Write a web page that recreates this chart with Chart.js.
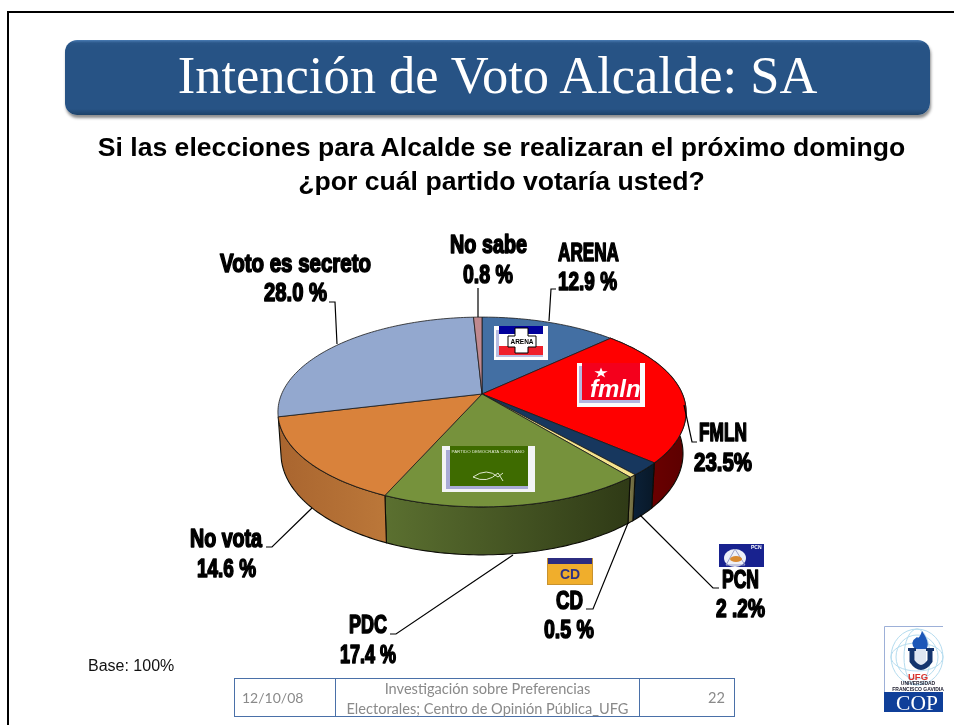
<!DOCTYPE html>
<html lang="es">
<head>
<meta charset="utf-8">
<title>Intención de Voto Alcalde: SA</title>
<script src="https://cdn.jsdelivr.net/npm/chart.js@4"></script>
<style>
html,body{margin:0;padding:0;background:#fff;width:954px;height:725px;overflow:hidden}
#wrap{position:relative;width:954px;height:725px}
#frameTop{position:absolute;left:7px;top:11px;width:947px;height:2px;background:#000}
#frameLeft{position:absolute;left:7px;top:11px;width:2px;height:714px;background:#000}
#banner{position:absolute;left:65px;top:40px;width:865px;height:75px;border-radius:12px;
 background:linear-gradient(#4a7cb4 0,#2a5688 3px,#275385 10%,#275385 92%,#1d4268 100%);
 box-shadow:1px 3px 3px rgba(0,0,0,.45);color:#fff;text-align:center;
 font:52.5px/71px "Liberation Serif",serif}
#sub{position:absolute;left:0;top:130px;width:1003px;text-align:center;color:#000;
 font:bold 26.6px/34px "Liberation Sans",Arial,sans-serif}
#base{position:absolute;left:88px;top:657px;color:#111;font:16px/18px "Liberation Sans",Arial,sans-serif}
canvas{position:absolute;left:0;top:0}
#foot div{position:absolute;top:678px;height:39px;box-sizing:border-box;border:1.5px solid #4a70a8;color:#8a8a8a;
 font:14.6px/20px Lato,"Open Sans",sans-serif}
</style>
</head>
<body>
<div id="wrap">
<canvas id="c" width="954" height="725"></canvas>
<div id="frameTop"></div><div id="frameLeft"></div>
<div id="banner">Intención de Voto Alcalde: SA</div>
<div id="sub">Si las elecciones para Alcalde se realizaran el próximo domingo<br>¿por cuál partido votaría usted?</div>
<div id="base">Base: 100%</div>
<div id="foot">
 <div style="left:234px;width:102px;line-height:37px;padding-left:7px;font-size:14px">12/10/08</div>
 <div style="left:335px;width:305px;text-align:center;line-height:20px;padding-top:0">Investigación sobre Preferencias<br>Electorales; Centro de Opinión Pública_UFG</div>
 <div style="left:639px;width:96px;line-height:37px;text-align:right;padding-right:9px">22</div>
</div>
</div>
<script>
// ---- data ----
const categories = ['ARENA','FMLN','PCN','CD','PDC','No vota','Voto es secreto','No sabe'];
const values     = [12.9, 23.5, 2.2, 0.5, 17.4, 14.6, 28.0, 0.8];
const valueTexts = ['12.9 %','23.5%','2 .2%','0.5 %','17.4 %','14.6 %','28.0 %','0.8 %'];
const sliceColors = ['#436fa3','#ff0000','#17375e','#f6e48e','#76923c','#d9823b','#93a8cf','#c0898f'];
const wallColors  = [['#33557d','#2a4767'],['#7a0000','#5c0000'],['#0b2036','#081828'],['#7a7648','#66623a'],
                     ['#5b7030','#2f3a16'],['#a9652f','#bb7739'],['#6f81a3','#5f708f'],['#8f666b','#7c585c']];
// ---- layout of the page furniture ----
const labelBoxes = [ // [name left,right,baseline, value left,right,baseline]
 [558,619,261, 558,617,290],[699,747,441, 694,752,471],[722,759,588, 716,765,617],[556,583,609, 544,594,638],
 [349,387,633, 340,396,663],[190,262,547, 197,256,577],[220,371,272, 264,327,301],[450,527,253, 463,513,283]];
const leaders = [
 [[556,289],[551,289],[549,321]],[[684,405],[692,442],[697,442]],[[640,515],[713,588],[719,588]],[[628,523],[593,609],[586,609]],
 [[513,555],[396,634],[390,634]],[[312,508],[272,547],[266,547]],[[329,302],[335,302],[337,344]],[[478,288],[478,317]]];

const PERSP = 0.1895, RATIO = 0.4574, WIDEN = 1.0018, WALL_BASE = 40, WALL_VAR = 8, WALL_SHRINK = 0.985;

function project(el, a){
  const u = Math.cos(a), v = Math.sin(a), w = 1 - PERSP*v, R = el.outerRadius;
  return {x: el.x + R*WIDEN*u/w, y: el.y + R*RATIO*v/w, v};
}
function lower(el, p){
  return {x: el.x + (p.x-el.x)*WALL_SHRINK, y: p.y + WALL_BASE + WALL_VAR*p.v};
}
function rim(el, a0, a1){
  const n = Math.max(2, Math.ceil((a1-a0)/0.02)), pts = [];
  for(let i=0;i<=n;i++) pts.push(project(el, a0+(a1-a0)*i/n));
  return pts;
}
function drawWall(ctx, el, i){
  const top = rim(el, el.startAngle, el.endAngle), bot = top.map(p=>lower(el,p));
  ctx.beginPath();
  top.forEach((p,k)=>k?ctx.lineTo(p.x,p.y):ctx.moveTo(p.x,p.y));
  bot.reverse().forEach(p=>ctx.lineTo(p.x,p.y));
  ctx.closePath();
  const xs = top.map(p=>p.x), g = ctx.createLinearGradient(Math.min(...xs),0,Math.max(...xs),0);
  g.addColorStop(0, wallColors[i][0]); g.addColorStop(1, wallColors[i][1]);
  ctx.fillStyle = g; ctx.fill();
  ctx.strokeStyle = '#0c0c06'; ctx.lineWidth = 1.1; ctx.stroke();
}
function drawTop(ctx, el){
  const c = {x: el.x, y: el.y};
  ctx.beginPath(); ctx.moveTo(c.x,c.y);
  rim(el, el.startAngle, el.endAngle).forEach(p=>ctx.lineTo(p.x,p.y));
  ctx.closePath();
  ctx.fillStyle = el.options.backgroundColor; ctx.fill();
  ctx.strokeStyle = '#1a1a1a'; ctx.lineWidth = 0.8; ctx.stroke();
}
function fitText(ctx, text, xl, xr, base){
  const m = ctx.measureText(text).width, s = (xr-xl)/m;
  ctx.save(); ctx.translate(xl, base); ctx.scale(s,1);
  ctx.lineWidth = 1.6; ctx.strokeStyle = '#000'; ctx.fillStyle = '#000'; ctx.lineJoin='round';
  ctx.strokeText(text,0,0); ctx.fillText(text,0,0); ctx.restore();
}
function rect(ctx,x,y,w,h,c){ctx.fillStyle=c;ctx.fillRect(x,y,w,h);}
function logoArena(ctx){
  rect(ctx,494,326,54,34,'#fdfdfd');
  rect(ctx,496,330,47,27,'#b9bde0');
  rect(ctx,499,326,44,8,'#00009c');
  rect(ctx,499,334,44,12,'#fff');
  rect(ctx,499,346,44,9,'#f01f2a');
  ctx.fillStyle='#fff';ctx.strokeStyle='#000';ctx.lineWidth=1;
  ctx.beginPath();
  [[515,328],[528,328],[528,336],[536,336],[536,347],[528,347],[528,353],[515,353],[515,347],[508,347],[508,336],[515,336]]
   .forEach((p,k)=>k?ctx.lineTo(p[0],p[1]):ctx.moveTo(p[0],p[1]));
  ctx.closePath();ctx.fill();ctx.stroke();
  ctx.fillStyle='#000';ctx.font='bold 6.5px "Liberation Sans",sans-serif';ctx.textAlign='center';
  ctx.fillText('ARENA',522,344);ctx.textAlign='left';
}
function logoFmln(ctx){
  rect(ctx,577,363,68,44,'#fbfbfb');
  rect(ctx,579,366,61,37,'#b3b6e0');
  rect(ctx,582,363,58,37,'#f4001c');
  ctx.fillStyle='#fff';
  ctx.font='italic bold 24px "Liberation Sans",sans-serif';ctx.fillText('fmln',590,397);
  ctx.beginPath();
  const cx=601,cy=373;
  for(let i=0;i<10;i++){const r=i%2?2.6:7,a=-Math.PI/2+i*Math.PI/5;ctx.lineTo(cx+r*Math.cos(a),cy+r*Math.sin(a)*0.8);}
  ctx.closePath();ctx.fill();
}
function logoPdc(ctx){
  rect(ctx,442,446,93,46,'#f3f4f6');
  rect(ctx,446,450,82,39,'#a9abd6');
  rect(ctx,450,446,78,40,'#3e6b00');
  ctx.fillStyle='#dfe8cf';ctx.font='4.4px "Liberation Sans",sans-serif';ctx.textAlign='center';
  ctx.fillText('PARTIDO DEMOCRATA CRISTIANO',488,453);ctx.textAlign='left';
  ctx.strokeStyle='#dfe8cf';ctx.lineWidth=1;ctx.beginPath();
  ctx.moveTo(473,477);ctx.quadraticCurveTo(487,467,498,477);ctx.lineTo(503,473);
  ctx.moveTo(473,477);ctx.quadraticCurveTo(487,484,498,473);ctx.lineTo(503,481);ctx.stroke();
}
function logoCd(ctx){
  rect(ctx,547,558,46,27,'#c8922e');
  rect(ctx,548,558,44,6,'#2c2c80');
  rect(ctx,548,564,44,20,'#f0ae2c');
  ctx.fillStyle='#2e3284';ctx.font='bold 14px "Liberation Sans",sans-serif';ctx.textAlign='center';
  ctx.fillText('CD',570,579);ctx.textAlign='left';
}
function logoPcn(ctx){
  rect(ctx,719,544,45,23,'#18228f');
  ctx.fillStyle='#eef0f8';ctx.beginPath();ctx.ellipse(735,558,11,9,0,0,7);ctx.fill();
  ctx.strokeStyle='#9aa0c8';ctx.lineWidth=1;ctx.beginPath();ctx.moveTo(735,549);ctx.lineTo(745,565);ctx.lineTo(726,565);ctx.closePath();ctx.stroke();
  ctx.fillStyle='#d88a32';ctx.beginPath();ctx.ellipse(736,559,6,3,0,0,7);ctx.fill();
  ctx.fillStyle='#fff';ctx.font='bold 5px "Liberation Sans",sans-serif';ctx.fillText('PCN',751,549);
}
function logoUfg(ctx){
  rect(ctx,884,626,59,86,'#fff');
  ctx.strokeStyle='#9db0d8';ctx.lineWidth=1;ctx.beginPath();ctx.moveTo(884.5,712);ctx.lineTo(884.5,626.5);ctx.lineTo(943,626.5);ctx.stroke();
  ctx.strokeStyle='#b5dcef';ctx.lineWidth=1;
  for(const [rx,ry] of [[26,28],[26,14],[13,28],[21,22]]){ctx.beginPath();ctx.ellipse(917,657,rx,ry,0,0,7);ctx.stroke();}
  ctx.fillStyle='#1c57b8';ctx.beginPath();ctx.moveTo(922,631);ctx.quadraticCurveTo(931,644,926,649);ctx.lineTo(915,649);
  ctx.quadraticCurveTo(909,642,917,637);ctx.quadraticCurveTo(919,640,922,631);ctx.fill();
  rect(ctx,915,649,11,18,'#dfe6f2');
  ctx.strokeStyle='#14346e';ctx.lineWidth=5;ctx.beginPath();ctx.moveTo(912,650);ctx.lineTo(912,661);ctx.quadraticCurveTo(921,674,930,661);ctx.lineTo(930,650);ctx.stroke();
  rect(ctx,908,648,8,3,'#14346e');rect(ctx,926,648,8,3,'#14346e');
  ctx.textAlign='center';
  ctx.fillStyle='#d9342b';ctx.font='bold 9.5px "Liberation Sans",sans-serif';ctx.fillText('UFG',918,680);
  ctx.fillStyle='#223';ctx.font='bold 5px "Liberation Sans Narrow","Liberation Sans",sans-serif';
  ctx.fillText('UNIVERSIDAD',918,685);ctx.fillText('FRANCISCO GAVIDIA',918,690.5);
  rect(ctx,884,692,59,20,'#0f3f99');
  ctx.fillStyle='#fff';ctx.font='21.5px "Liberation Serif",serif';ctx.fillText('COP',917,710);
  ctx.textAlign='left';
}
const pie3d = {
  id:'pie3d',
  beforeDatasetsDraw(chart){
    const ctx = chart.ctx, arcs = chart.getDatasetMeta(0).data;
    ctx.save();
    arcs.forEach((el,i)=>{ if(Math.sin((el.startAngle+el.endAngle)/2)>-0.3) drawWall(ctx,el,i); });
    arcs.forEach(el=>drawTop(ctx,el));
    ctx.lineJoin='miter';
    leaders.forEach(line=>{
      ctx.beginPath();line.forEach((p,k)=>k?ctx.lineTo(p[0],p[1]):ctx.moveTo(p[0],p[1]));
      ctx.strokeStyle='#000';ctx.lineWidth=1.2;ctx.stroke();
    });
    logoArena(ctx);logoFmln(ctx);logoPdc(ctx);logoCd(ctx);logoPcn(ctx);logoUfg(ctx);
    ctx.font='bold 25px "Liberation Sans Narrow","Liberation Sans",sans-serif';
    ctx.textBaseline='alphabetic';
    categories.forEach((name,i)=>{
      const b = labelBoxes[i];
      fitText(ctx,name,b[0],b[1],b[2]);
      fitText(ctx,valueTexts[i],b[3],b[4],b[5]);
    });
    ctx.restore();
    return false;
  }
};
new Chart(document.getElementById('c'),{
  type:'pie',
  data:{labels:categories,datasets:[{data:values,backgroundColor:sliceColors,borderWidth:0,hoverOffset:0}]},
  options:{
    responsive:false,animation:false,events:[],
    layout:{padding:{left:282,right:272,top:194,bottom:131}},
    plugins:{legend:{display:false},tooltip:{enabled:false},title:{display:false}}
  },
  plugins:[pie3d]
});
</script>
</body>
</html>
